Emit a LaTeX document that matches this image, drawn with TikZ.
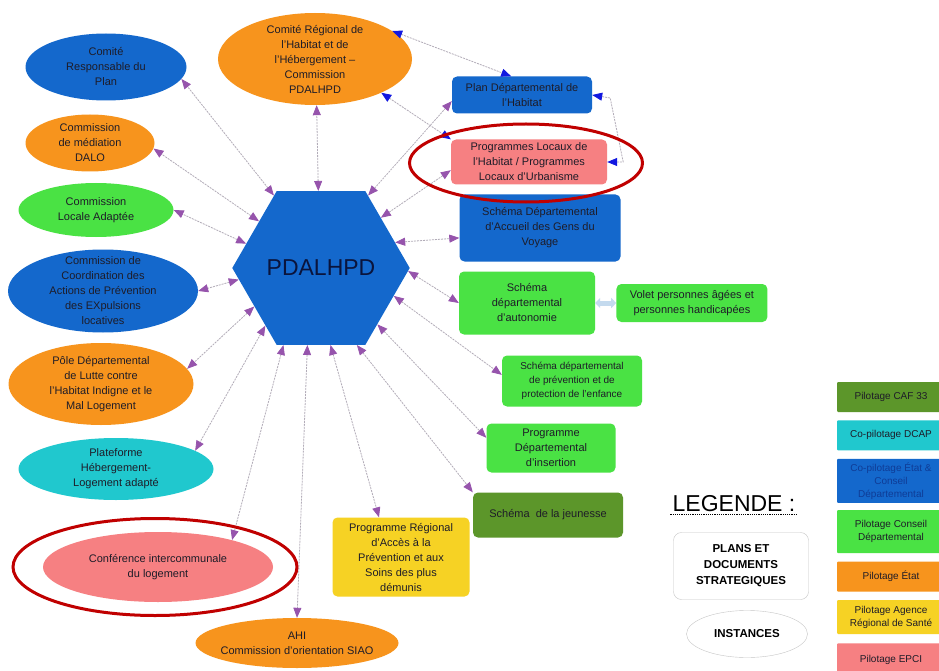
\documentclass[tikz,border=0pt]{standalone}
\usepackage{fontspec}
\setmainfont{Liberation Sans}
\usepackage{tikz}
\usetikzlibrary{shapes,arrows.meta,calc}
\usetikzlibrary{positioning}

\definecolor{pBlue}{RGB}{20,104,204}
\definecolor{pOrange}{RGB}{247,148,29}
\definecolor{pGreen}{RGB}{74,226,68}
\definecolor{pTeal}{RGB}{32,200,206}
\definecolor{pPink}{RGB}{246,128,130}
\definecolor{pYellow}{RGB}{246,210,36}
\definecolor{pDark}{RGB}{92,150,42}
\definecolor{ringRed}{RGB}{192,0,0}
\definecolor{arrPurple}{RGB}{150,84,172}
\definecolor{arrBlue}{RGB}{18,24,224}
\definecolor{linkGrey}{RGB}{178,172,184}
\definecolor{lightBlue}{RGB}{196,218,238}
\definecolor{txt}{RGB}{30,28,40}
\definecolor{navyTxt}{RGB}{15,60,150}

\tikzset{
    instance/.style={ellipse, inner sep=0pt, align=center, text=txt, font=\fontsize{11}{15}\selectfont},
    plan/.style={rectangle, rounded corners=5pt, inner sep=2pt, align=center, text=txt, font=\fontsize{11}{15}\selectfont},
    pilot/.style={rectangle, rounded corners=1pt, minimum width=108pt, inner sep=2pt, align=center, text=txt, font=\fontsize{10}{13}\selectfont},
    redring/.style={ellipse, draw=ringRed, line width=3pt, inner sep=0pt},
    link/.style={draw=linkGrey, line width=0.8pt, dash pattern=on 2pt off 1pt,
        {Triangle[color=arrPurple,length=10pt,width=8pt]}-{Triangle[color=arrPurple,length=10pt,width=8pt]}},
    bluelink/.style={draw=linkGrey, line width=0.8pt, dash pattern=on 2pt off 1pt,
        {Triangle[color=arrBlue,length=10pt,width=8pt]}-{Triangle[color=arrBlue,length=10pt,width=8pt]}},
}

\begin{document}
\begin{tikzpicture}[x=1pt, y=-1pt]
    \fill[white] (0,0) rectangle (939,671);
    \useasboundingbox (0,0) rectangle (939,671);

    \node[regular polygon, regular polygon sides=6, minimum size=140pt, inner sep=0pt, fill=pBlue, text={rgb,255:red,10;green,20;blue,60}, font=\fontsize{23}{23}\selectfont] (hex) at (321,268) {PDALHPD};

    % instances
    \node[instance, fill=pBlue, minimum width=161pt, minimum height=67pt] (crp) at (106,67) {Comité\\Responsable du\\Plan};
    \node[instance, fill=pOrange, minimum width=129pt, minimum height=57pt] (dalo) at (90,143) {Commission\\de médiation\\DALO};
    \node[instance, fill=pGreen, minimum width=155pt, minimum height=54pt] (cla) at (96,210) {Commission\\Locale Adaptée};
    \node[instance, fill=pBlue, minimum width=190pt, minimum height=83pt, inner ysep=-6pt] (ccapex) at (103,291) {Commission de\\Coordination des\\Actions de Prévention\\des EXpulsions\\locatives};
    \node[instance, fill=pOrange, minimum width=185pt, minimum height=82pt] (pdlhi) at (101,384) {Pôle Départemental\\de Lutte contre\\l'Habitat Indigne et le\\Mal Logement};
    \node[instance, fill=pTeal, minimum width=195pt, minimum height=62pt] (pfhl) at (116,469) {Plateforme\\Hébergement-\\Logement adapté};
    \node[instance, fill=pPink, minimum width=230pt, minimum height=70pt] (cil) at (158,567) {Conférence intercommunale\\du logement};
    \node[instance, fill=pOrange, minimum width=203pt, minimum height=50pt, inner xsep=-6pt] (ahi) at (297,643) {AHI\\Commission d'orientation SIAO};
    \node[instance, fill=pOrange, minimum width=194pt, minimum height=92pt, inner ysep=-4pt] (crhh) at (315,59) {Comité Régional de\\l'Habitat et de\\l'Hébergement –\\Commission\\PDALHPD};

    % plans et documents
    \node[plan, fill=pBlue, minimum width=140pt, minimum height=37pt] (pdh) at (522,95) {Plan Départemental de\\l'Habitat};
    \node[plan, fill=pPink, minimum width=156pt, minimum height=45pt] (plh) at (529,162) {Programmes Locaux de\\l'Habitat / Programmes\\Locaux d'Urbanisme};
    \node[plan, fill=pBlue, minimum width=161pt, minimum height=67pt] (sdagv) at (540,228) {Schéma Départemental\\d'Accueil des Gens du\\Voyage};
    \node[plan, fill=pGreen, minimum width=136pt, minimum height=63pt] (sda) at (527,303) {Schéma\\départemental\\d'autonomie};
    \node[plan, fill=pGreen, minimum width=151pt, minimum height=38pt, right=21pt of sda] (volet) {Volet personnes âgées et\\personnes handicapées};
    \node[plan, fill=pGreen, minimum width=140pt, minimum height=51pt, font=\fontsize{10}{14}\selectfont] (sdppe) at (572,381) {Schéma départemental\\de prévention et de\\protection de l'enfance};
    \node[plan, fill=pGreen, minimum width=129pt, minimum height=49pt] (pdi) at (551,448) {Programme\\Départemental\\d'insertion};
    \node[plan, fill=pDark, minimum width=150pt, minimum height=45pt] (sdj) at (548,515) {Schéma\ \ de la jeunesse};
    \node[plan, fill=pYellow, minimum width=137pt, minimum height=79pt] (praps) at (401,557) {Programme Régional\\d'Accès à la\\Prévention et aux\\Soins des plus\\démunis};

    % legende
    \node[inner sep=2pt, font=\fontsize{23}{23}\selectfont] (legende) at (734,504) {LEGENDE :};
    \node[rectangle, rounded corners=8pt, draw=gray!45, minimum width=135pt, minimum height=67pt, align=center, font=\bfseries\fontsize{11.5}{16}\selectfont] (legplan) at (741,566) {PLANS ET\\DOCUMENTS\\STRATEGIQUES};
    \node[ellipse, draw=gray!45, minimum width=121pt, minimum height=47pt, inner sep=2pt, font=\bfseries\fontsize{11.5}{14}\selectfont] (leginst) at (747,634) {INSTANCES};

    \node[pilot, fill=pDark, minimum height=30pt] (caf) at (891,397) {Pilotage CAF 33};
    \node[pilot, fill=pTeal, minimum height=30pt, below=8pt of caf] (dcap) {Co-pilotage DCAP};
    \node[pilot, fill=pBlue, minimum height=44pt, below=8pt of dcap, text=navyTxt] (etatcd) {Co-pilotage État \&\\Conseil\\Départemental};
    \node[pilot, fill=pGreen, minimum height=43pt, below=7pt of etatcd] (cd) {Pilotage Conseil\\Départemental};
    \node[pilot, fill=pOrange, minimum height=30pt, below=8pt of cd] (etat) {Pilotage État};
    \node[pilot, fill=pYellow, minimum height=34pt, below=8pt of etat] (ars) {Pilotage Agence\\Régional de Santé};
    \node[pilot, fill=pPink, minimum height=34pt, below=9pt of ars] (epci) {Pilotage EPCI};

    \draw[link] (hex.123) -- (crp.-9);
    \draw[link] (hex.92) -- (crhh.-88);
    \draw[link] (hex.143) -- (dalo.-5);
    \draw[link] (hex.162) -- (cla.east);
    \draw[link] (hex.188) -- (ccapex.east);
    \draw[link] (hex.210) -- (pdlhi.10);
    \draw[link] (hex.226) -- (pfhl.13);
    \draw[link] (hex.244) -- (cil.20);
    \draw[link] (hex.260) -- (ahi.north);
    \draw[link] (hex.277) -- (praps.119);
    \draw[link] (hex.295) -- (sdj.north west);
    \draw[link] (hex.315) -- (pdi.171);
    \draw[link] (hex.339) -- (sdppe.175);
    \draw[link] (hex.358) -- (sda.west);
    \draw[link] (hex.19) -- (sdagv.187);
    \draw[link] (hex.40) -- (plh.186);
    \draw[link] (hex.57) -- (pdh.185);

    \draw[bluelink] (crhh.20) -- (pdh.120);
    \draw[bluelink] (crhh.-27) -- (plh.north west);
    \draw[bluelink] (pdh.east) -- ++(18,3) -- ($(plh.east)+(16,0)$) -- (plh.east);

    \draw[draw=lightBlue, line width=5pt, {Triangle[length=5pt,width=10pt]}-{Triangle[length=5pt,width=10pt]}] (sda) -- (volet);

    \draw[densely dotted, line width=1.2pt] (legende.south west) -- (legende.south east);

    \node[redring, minimum width=284pt, minimum height=97pt] (ringcil) at (155,567) {};
    \node[redring, minimum width=233pt, minimum height=78pt] (ringplh) at (526,163) {};
\end{tikzpicture}
\end{document}
